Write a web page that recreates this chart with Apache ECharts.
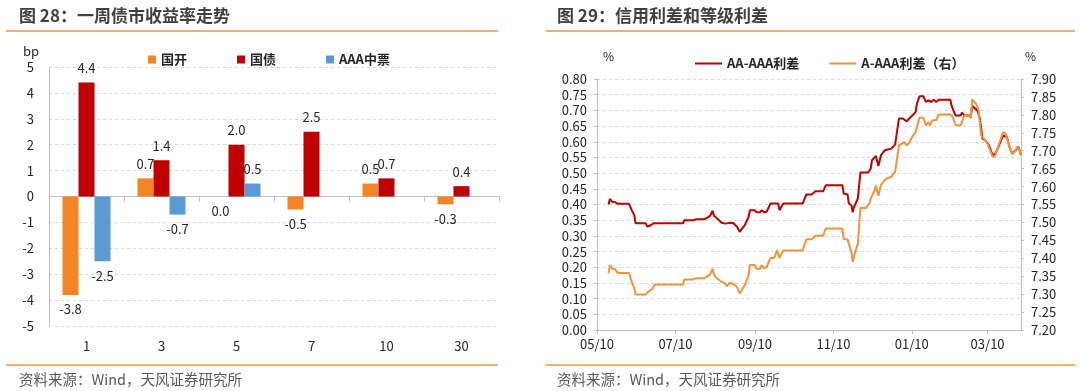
<!DOCTYPE html>
<html><head><meta charset="utf-8">
<script src="https://cdn.jsdelivr.net/npm/echarts@6/dist/echarts.min.js"></script>
<style>html,body{margin:0;padding:0;background:#fff}#c{width:1080px;height:391px}</style>
</head><body><div id="c"></div>
<script>
// ---------- Chart 28: weekly bond yield changes (bp) ----------
const barCategories = ['1', '3', '5', '7', '10', '30'];
const barSeriesNames = ['国开', '国债', 'AAA中票'];
const guokai = [-3.8, 0.7, 0.0, -0.5, 0.5, -0.3];
const guozhai = [4.4, 1.4, 2.0, 2.5, 0.7, 0.4];
const aaaMTN = [-2.5, -0.7, 0.5, null, null, null];

// ---------- Chart 29: credit spreads (%) ----------
const lineSeriesNames = ['AA-AAA利差', 'A-AAA利差（右）'];
const dateStart = '2017-05-10';
const dateEnd = '2018-04-05';
const aaAAA = [
['2017-05-19',0.400],['2017-05-20',0.418],['2017-05-22',0.408],['2017-05-24',0.408],['2017-05-26',0.402],['2017-06-04',0.402],['2017-06-06',0.382],['2017-06-08',0.366],['2017-06-09',0.340],['2017-06-17',0.340],['2017-06-18',0.330],['2017-06-20',0.332],['2017-06-23',0.340],['2017-07-16',0.340],['2017-07-17',0.350],['2017-07-24',0.350],['2017-07-26',0.353],['2017-08-01',0.353],['2017-08-03',0.356],['2017-08-06',0.364],['2017-08-08',0.380],['2017-08-09',0.364],['2017-08-11',0.357],['2017-08-13',0.350],['2017-08-15',0.342],['2017-08-18',0.339],['2017-08-19',0.334],['2017-08-21',0.342],['2017-08-24',0.341],['2017-08-27',0.329],['2017-08-29',0.313],['2017-08-30',0.313],['2017-09-02',0.334],['2017-09-05',0.361],['2017-09-06',0.382],['2017-09-10',0.382],['2017-09-11',0.375],['2017-09-14',0.375],['2017-09-15',0.382],['2017-09-17',0.375],['2017-09-19',0.377],['2017-09-22',0.403],['2017-09-28',0.403],['2017-09-29',0.382],['2017-10-02',0.403],['2017-10-17',0.403],['2017-10-20',0.432],['2017-10-24',0.432],['2017-10-27',0.442],['2017-11-02',0.442],['2017-11-04',0.461],['2017-11-17',0.461],['2017-11-18',0.435],['2017-11-21',0.432],['2017-11-22',0.403],['2017-11-24',0.397],['2017-11-25',0.375],['2017-11-26',0.392],['2017-11-29',0.419],['2017-12-01',0.502],['2017-12-07',0.502],['2017-12-09',0.514],['2017-12-10',0.541],['2017-12-13',0.555],['2017-12-15',0.523],['2017-12-17',0.557],['2017-12-20',0.573],['2017-12-25',0.578],['2017-12-28',0.591],['2017-12-31',0.674],['2018-01-03',0.674],['2018-01-06',0.665],['2018-01-08',0.674],['2018-01-11',0.686],['2018-01-13',0.695],['2018-01-14',0.721],['2018-01-16',0.745],['2018-01-19',0.745],['2018-01-21',0.727],['2018-01-23',0.732],['2018-01-25',0.727],['2018-01-27',0.734],['2018-01-29',0.727],['2018-01-31',0.734],['2018-02-09',0.734],['2018-02-10',0.714],['2018-02-13',0.684],['2018-02-17',0.684],['2018-02-18',0.693],['2018-02-20',0.684],['2018-02-25',0.684],['2018-02-26',0.714],['2018-03-02',0.700],['2018-03-04',0.674],['2018-03-06',0.610],['2018-03-08',0.605],['2018-03-11',0.589],['2018-03-14',0.557],['2018-03-16',0.562],['2018-03-19',0.589],['2018-03-22',0.620],['2018-03-25',0.615],['2018-03-27',0.584],['2018-03-29',0.562],['2018-04-01',0.573],['2018-04-03',0.584],['2018-04-05',0.557]
];
const aAAA = [
['2017-05-19',7.358],['2017-05-20',7.381],['2017-05-22',7.370],['2017-05-24',7.370],['2017-05-26',7.359],['2017-06-04',7.359],['2017-06-06',7.334],['2017-06-08',7.316],['2017-06-09',7.299],['2017-06-17',7.299],['2017-06-19',7.308],['2017-06-22',7.314],['2017-06-24',7.327],['2017-07-16',7.327],['2017-07-17',7.341],['2017-07-24',7.341],['2017-07-26',7.344],['2017-08-01',7.344],['2017-08-03',7.348],['2017-08-06',7.355],['2017-08-08',7.371],['2017-08-09',7.355],['2017-08-11',7.345],['2017-08-15',7.334],['2017-08-18',7.329],['2017-08-19',7.322],['2017-08-21',7.331],['2017-08-24',7.329],['2017-08-27',7.320],['2017-08-29',7.302],['2017-08-30',7.302],['2017-09-02',7.325],['2017-09-05',7.353],['2017-09-06',7.381],['2017-09-10',7.381],['2017-09-11',7.371],['2017-09-14',7.371],['2017-09-15',7.381],['2017-09-17',7.373],['2017-09-19',7.375],['2017-09-22',7.401],['2017-09-25',7.401],['2017-09-27',7.422],['2017-09-29',7.401],['2017-10-02',7.422],['2017-10-17',7.422],['2017-10-20',7.453],['2017-10-24',7.453],['2017-10-27',7.463],['2017-11-02',7.463],['2017-11-04',7.483],['2017-11-17',7.483],['2017-11-18',7.453],['2017-11-21',7.453],['2017-11-23',7.427],['2017-11-24',7.418],['2017-11-25',7.390],['2017-11-27',7.418],['2017-11-29',7.441],['2017-12-01',7.540],['2017-12-05',7.540],['2017-12-08',7.553],['2017-12-09',7.566],['2017-12-12',7.589],['2017-12-13',7.603],['2017-12-15',7.574],['2017-12-17',7.605],['2017-12-21',7.622],['2017-12-25',7.627],['2017-12-28',7.641],['2017-12-31',7.715],['2018-01-04',7.724],['2018-01-06',7.715],['2018-01-08',7.722],['2018-01-11',7.743],['2018-01-13',7.752],['2018-01-14',7.766],['2018-01-16',7.792],['2018-01-19',7.792],['2018-01-21',7.771],['2018-01-23',7.780],['2018-01-24',7.771],['2018-01-26',7.785],['2018-01-29',7.785],['2018-01-31',7.801],['2018-02-09',7.801],['2018-02-11',7.794],['2018-02-13',7.771],['2018-02-17',7.771],['2018-02-19',7.789],['2018-02-20',7.798],['2018-02-23',7.798],['2018-02-25',7.791],['2018-02-26',7.843],['2018-03-01',7.831],['2018-03-03',7.813],['2018-03-05',7.743],['2018-03-07',7.734],['2018-03-10',7.720],['2018-03-14',7.682],['2018-03-16',7.687],['2018-03-19',7.720],['2018-03-22',7.752],['2018-03-24',7.748],['2018-03-27',7.711],['2018-03-29',7.692],['2018-03-31',7.696],['2018-04-02',7.711],['2018-04-04',7.702],['2018-04-05',7.686]
];

// calendar-day categories for the date axis
function buildDays(s, e) {
  const out = [];
  let t = Date.parse(s + 'T00:00:00Z');
  const end = Date.parse(e + 'T00:00:00Z');
  while (t <= end) { out.push(new Date(t).toISOString().slice(0, 10)); t += 86400000; }
  return out;
}
const dayCategories = buildDays(dateStart, dateEnd);
const isTickDay = (v) => { const m = +v.slice(5, 7), d = +v.slice(8, 10); return d === 10 && m % 2 === 1; };

const FONT = '"Noto Sans CJK SC", "Noto Sans", sans-serif';
const C_ORANGE = '#F48424', C_RED = '#C00000', C_BLUE = '#5B9BD5';
const L_RED = '#C00000', L_ORANGE = '#F5923E', RULE = '#F5913F';
const AXIS = '#BFBFBF', GRID = '#D9D9D9', TXT = '#262626';

function barItems(arr) {
  return arr.map(v => v == null ? '-' : { value: v, label: { position: v > 0 ? 'top' : 'bottom' } });
}
const barLabel = { show: true, distance: 8, fontSize: 13, color: TXT, fontFamily: FONT, formatter: p => (+p.value).toFixed(1) };

const chart = echarts.init(document.getElementById('c'), null, { renderer: 'canvas' });
chart.setOption({
  animation: false,
  textStyle: { fontFamily: FONT },
  graphic: [
    { type: 'text', left: 19, top: 7, style: { text: '图 28：一周债市收益率走势', font: 'bold 17px ' + FONT, fill: '#404040' } },
    { type: 'text', left: 557, top: 7, style: { text: '图 29：信用利差和等级利差', font: 'bold 17px ' + FONT, fill: '#404040' } },
    { type: 'line', shape: { x1: 6, y1: 31, x2: 498, y2: 31 }, style: { stroke: RULE, lineWidth: 1.5 } },
    { type: 'line', shape: { x1: 546, y1: 31, x2: 1075, y2: 31 }, style: { stroke: RULE, lineWidth: 1.5 } },
    { type: 'line', shape: { x1: 6, y1: 365, x2: 498, y2: 365 }, style: { stroke: RULE, lineWidth: 1.5 } },
    { type: 'line', shape: { x1: 546, y1: 365, x2: 1075, y2: 365 }, style: { stroke: RULE, lineWidth: 1.5 } },
    { type: 'text', left: 19, top: 372, style: { text: '资料来源：Wind，天风证券研究所', font: '14.5px ' + FONT, fill: '#595959' } },
    { type: 'text', left: 557, top: 372, style: { text: '资料来源：Wind，天风证券研究所', font: '14.5px ' + FONT, fill: '#595959' } },
    { type: 'text', left: 23, top: 45, style: { text: 'bp', font: '13px ' + FONT, fill: TXT } },
    { type: 'text', left: 603, top: 50, style: { text: '%', font: '12px ' + FONT, fill: TXT } },
    { type: 'text', left: 1025, top: 50, style: { text: '%', font: '12px ' + FONT, fill: TXT } }
  ],
  legend: [
    { data: barSeriesNames, left: 143, top: 48, icon: 'rect', itemWidth: 8, itemHeight: 8, itemGap: 50,
      textStyle: { fontSize: 13, fontWeight: 'bold', color: TXT, fontFamily: FONT } },
    { data: lineSeriesNames, left: 690, top: 52, icon: 'rect', itemWidth: 27, itemHeight: 2, itemGap: 30,
      textStyle: { fontSize: 13, fontWeight: 'bold', color: TXT, fontFamily: FONT } }
  ],
  grid: [
    { left: 49, right: 581, top: 67, bottom: 65 },
    { left: 597, right: 59, top: 79, bottom: 61 }
  ],
  xAxis: [
    { gridIndex: 0, type: 'category', data: barCategories,
      axisLine: { onZero: true, lineStyle: { color: AXIS } },
      axisTick: { show: true, length: 5, lineStyle: { color: AXIS } },
      axisLabel: { show: false }, splitLine: { show: false } },
    { gridIndex: 0, type: 'category', data: barCategories, position: 'bottom',
      axisLine: { show: false, onZero: false }, axisTick: { show: false },
      axisLabel: { margin: 14, fontSize: 13, color: TXT, fontFamily: FONT }, splitLine: { show: false } },
    { gridIndex: 1, type: 'category', data: dayCategories, boundaryGap: false,
      axisLine: { lineStyle: { color: AXIS } },
      axisTick: { show: true, length: 4, interval: (i, v) => isTickDay(v), lineStyle: { color: AXIS } },
      axisLabel: { interval: (i, v) => isTickDay(v), formatter: v => v.slice(5, 7) + '/' + v.slice(8, 10),
        margin: 8, fontSize: 13, color: TXT, fontFamily: FONT },
      splitLine: { show: false } }
  ],
  yAxis: [
    { gridIndex: 0, type: 'value', min: -5, max: 5, interval: 1,
      axisLine: { show: true, lineStyle: { color: AXIS } }, axisTick: { show: false },
      axisLabel: { margin: 15, fontSize: 13, color: TXT, fontFamily: FONT },
      splitLine: { lineStyle: { color: GRID, type: [3, 3] } } },
    { gridIndex: 1, type: 'value', min: 0, max: 0.8, interval: 0.05, position: 'left',
      axisLine: { show: true, lineStyle: { color: AXIS } }, axisTick: { show: true, length: 3, lineStyle: { color: AXIS } },
      axisLabel: { margin: 10, fontSize: 13, color: TXT, fontFamily: FONT, formatter: v => v.toFixed(2) },
      splitLine: { lineStyle: { color: GRID, type: [3, 3] } } },
    { gridIndex: 1, type: 'value', min: 7.2, max: 7.9, interval: 0.05, position: 'right',
      axisLine: { show: true, lineStyle: { color: AXIS } }, axisTick: { show: true, length: 3, lineStyle: { color: AXIS } },
      axisLabel: { margin: 10, fontSize: 13, color: TXT, fontFamily: FONT, formatter: v => v.toFixed(2) },
      splitLine: { show: false } }
  ],
  series: [
    { name: '国开', type: 'bar', xAxisIndex: 0, yAxisIndex: 0, data: barItems(guokai), barWidth: 16, barGap: '0%',
      itemStyle: { color: C_ORANGE }, label: barLabel },
    { name: '国债', type: 'bar', xAxisIndex: 0, yAxisIndex: 0, data: barItems(guozhai), barWidth: 16, barGap: '0%',
      itemStyle: { color: C_RED }, label: barLabel },
    { name: 'AAA中票', type: 'bar', xAxisIndex: 0, yAxisIndex: 0, data: barItems(aaaMTN), barWidth: 16, barGap: '0%',
      itemStyle: { color: C_BLUE }, label: barLabel },
    { name: 'AA-AAA利差', type: 'line', xAxisIndex: 2, yAxisIndex: 1, data: aaAAA, showSymbol: false, symbol: 'none',
      lineStyle: { color: L_RED, width: 2 }, itemStyle: { color: L_RED } },
    { name: 'A-AAA利差（右）', type: 'line', xAxisIndex: 2, yAxisIndex: 2, data: aAAA, showSymbol: false, symbol: 'none',
      lineStyle: { color: L_ORANGE, width: 2 }, itemStyle: { color: L_ORANGE } }
  ]
});
</script>
</body></html>
